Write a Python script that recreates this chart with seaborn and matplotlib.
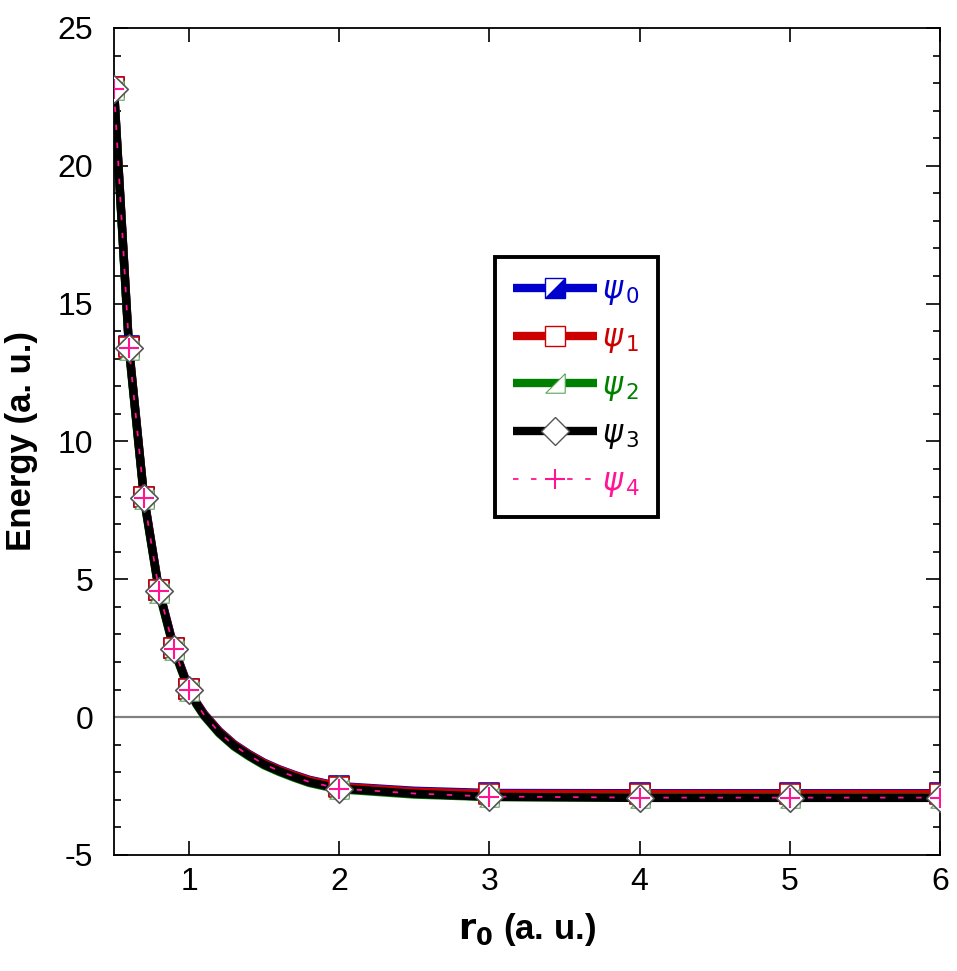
import numpy as np
import pandas as pd
import matplotlib
matplotlib.use('Agg')
import matplotlib.pyplot as plt
import seaborn as sns
from matplotlib.lines import Line2D
from matplotlib.ticker import MultipleLocator

# 데이터
r0 = [0.5, 0.6, 0.7, 0.8, 0.9, 1.0, 1.05, 1.1, 1.2, 1.3, 1.4, 1.5, 1.6, 1.7, 1.8, 1.9,
      2.0, 2.5, 3.0, 4.0, 5.0, 6.0]
r_marker = [0.5, 0.6, 0.7, 0.8, 0.9, 1.0, 2.0, 3.0, 4.0, 5.0, 6.0]

psi0 = [22.85, 13.45, 8.00, 4.62, 2.51, 1.03, 0.53, 0.12, -0.50, -0.98, -1.34, -1.65, -1.89,
        -2.09, -2.27, -2.39, -2.50, -2.67, -2.75, -2.76, -2.76, -2.76]
psi1 = [22.85, 13.42, 7.98, 4.60, 2.49, 1.01, 0.51, 0.10, -0.52, -1.00, -1.36, -1.67, -1.91,
        -2.11, -2.29, -2.41, -2.52, -2.70, -2.78, -2.79, -2.79, -2.79]
psi2 = [22.75, 13.30, 7.90, 4.52, 2.42, 0.95, 0.45, 0.04, -0.59, -1.07, -1.43, -1.75, -1.99,
        -2.20, -2.39, -2.51, -2.62, -2.81, -2.90, -2.92, -2.92, -2.92]
psi3 = [22.80, 13.38, 7.95, 4.57, 2.46, 0.98, 0.48, 0.07, -0.56, -1.04, -1.40, -1.72, -1.96,
        -2.17, -2.36, -2.48, -2.59, -2.78, -2.89, -2.93, -2.93, -2.93]
psi4 = [22.80, 13.40, 7.95, 4.57, 2.47, 0.99, 0.49, 0.08, -0.55, -1.03, -1.39, -1.71, -1.95,
        -2.16, -2.35, -2.47, -2.59, -2.77, -2.88, -2.92, -2.92, -2.92]

labels = [r'$\psi_{\,0}$', r'$\psi_{\,1}$', r'$\psi_{\,2}$', r'$\psi_{\,3}$', r'$\psi_{\,4}$']
colors = ['#0000cc', '#cc0000', '#008000', '#000000', '#ff1493']

df = pd.DataFrame({'r0': r0, 'psi0': psi0, 'psi1': psi1, 'psi2': psi2, 'psi3': psi3, 'psi4': psi4})
dm = df[df['r0'].isin(r_marker)]

sns.set_style('ticks')
plt.rcParams['font.family'] = ['Liberation Sans', 'DejaVu Sans']
plt.rcParams['mathtext.fontset'] = 'dejavusans'
plt.rcParams['axes.unicode_minus'] = False
for k in ['text.color', 'axes.labelcolor', 'xtick.color', 'ytick.color', 'axes.edgecolor']:
    plt.rcParams[k] = 'black'

fig = plt.figure(figsize=(9.57, 9.71), dpi=100)
ax = fig.add_axes([0.1191, 0.1195, 0.8631, 0.8517])

# 0 기준선
ax.axhline(0, color='#808080', lw=1.6, zorder=1)

# 선
cols = ['psi0', 'psi1', 'psi2', 'psi3']
for c, col in zip(cols, colors[:4]):
    sns.lineplot(data=df, x='r0', y=c, color=col, lw=6, ax=ax, zorder=2,
                 estimator=None, sort=False, solid_capstyle='butt', solid_joinstyle='round')
sns.lineplot(data=df, x='r0', y='psi4', color=colors[4], lw=1.3, ax=ax, zorder=3,
             estimator=None, sort=False, linestyle=(0, (3, 7)))

# 마커
lr_tri = [(1, 1), (1, -1), (-1, -1), (1, 1)]
ms = 14
sns.scatterplot(data=dm, x='r0', y='psi0', marker='s', s=ms**2, facecolor='white',
                edgecolor=colors[0], linewidth=1.2, ax=ax, zorder=4)
sns.scatterplot(data=dm, x='r0', y='psi0', marker=lr_tri, s=ms**2, color=colors[0],
                edgecolor=colors[0], linewidth=0.5, ax=ax, zorder=4)
sns.scatterplot(data=dm, x='r0', y='psi1', marker='s', s=ms**2, facecolor='white',
                edgecolor=colors[1], linewidth=1.2, ax=ax, zorder=5)
sns.scatterplot(data=dm, x='r0', y='psi2', marker=lr_tri, s=ms**2, facecolor='white',
                edgecolor='#5aa55a', linewidth=0.8, ax=ax, zorder=6)
sns.scatterplot(data=dm, x='r0', y='psi3', marker='D', s=ms**2, facecolor='white',
                edgecolor='#555555', linewidth=1.2, ax=ax, zorder=7)
sns.scatterplot(data=dm, x='r0', y='psi4', marker='+', s=ms**2, color=colors[4],
                linewidth=1.5, ax=ax, zorder=8)

ax.set_xlim(0.5, 6)
ax.set_ylim(-5, 25)
ax.xaxis.set_major_locator(MultipleLocator(1))
ax.yaxis.set_major_locator(MultipleLocator(5))
ax.yaxis.set_minor_locator(MultipleLocator(1))
ax.tick_params(which='both', direction='in', top=True, right=True, labelsize=23, width=1.2)
ax.tick_params(which='major', length=10)
ax.tick_params(which='minor', length=5)
ax.tick_params(axis='x', pad=9)
ax.tick_params(axis='y', pad=15)
for sp in ax.spines.values():
    sp.set_linewidth(1.3)

ax.set_xlabel(r'$\mathbf{r_0}$ (a. u.)', fontsize=25, fontweight='bold', labelpad=10)
ax.set_ylabel('Energy (a. u.)', fontsize=25, fontweight='bold', labelpad=14)

# 범례
handles = [
    (Line2D([], [], color=colors[0], lw=6, solid_capstyle='butt', marker='s', ms=ms,
            mfc='white', mec=colors[0]),
     Line2D([], [], ls='none', marker=lr_tri, ms=ms, mfc=colors[0], mec=colors[0])),
    Line2D([], [], color=colors[1], lw=6, solid_capstyle='butt', marker='s', ms=ms,
           mfc='white', mec=colors[1]),
    Line2D([], [], color=colors[2], lw=6, solid_capstyle='butt', marker=lr_tri, ms=ms,
           mfc='white', mec='#5aa55a', mew=0.8),
    Line2D([], [], color=colors[3], lw=6, solid_capstyle='butt', marker='D', ms=ms,
           mfc='white', mec='#555555'),
    Line2D([], [], color=colors[4], lw=1.3, ls=(0, (3, 7)), marker='+', ms=ms, mew=1.5),
]
leg = ax.legend(handles, labels, loc='upper left', bbox_to_anchor=(0.461, 0.723),
                borderaxespad=0, fontsize=22, handlelength=2.75, handletextpad=0.15,
                labelspacing=0.52, borderpad=0.6, frameon=True, fancybox=False,
                edgecolor='black', framealpha=1, numpoints=1)
leg.get_frame().set_linewidth(2.8)
for t, col in zip(leg.get_texts(), colors):
    t.set_color(col)

fig.savefig('out.png', dpi=100)
